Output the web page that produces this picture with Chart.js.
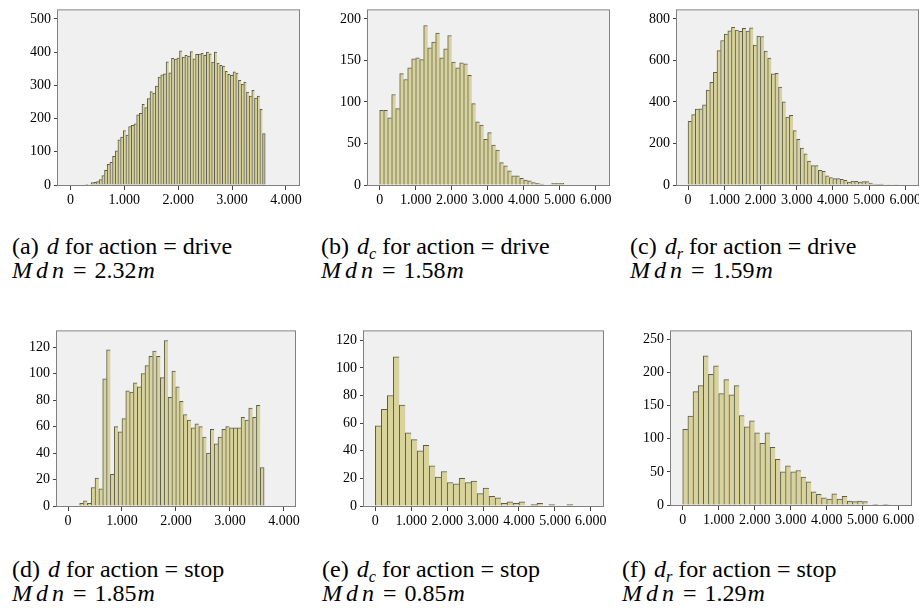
<!DOCTYPE html>
<html>
<head>
<meta charset="utf-8">
<script src="https://cdn.jsdelivr.net/npm/chart.js@4.4.1/dist/chart.umd.min.js"></script>
<style>
  body { margin: 0; background: #fff; width: 919px; height: 612px; overflow: hidden; position: relative;
         font-family: "Liberation Serif", "Times New Roman", serif; }
  .plot { position: absolute; }
  .cap { position: absolute; font-size: 24px; line-height: 24px; white-space: nowrap; color: #000; }
  .cap .lbl { margin-right: 8px; }
  .cap sub { font-size: 68%; vertical-align: -0.28em; line-height: 0; }
  .cap .mv { letter-spacing: 4px; }
  .cap .eq { margin: 0 8px 0 5px; }
  .cap .u { margin-left: 1px; letter-spacing: 1px; }
</style>
</head>
<body>
<div class="plot"><canvas id="chartA"></canvas></div>
<div class="plot"><canvas id="chartB"></canvas></div>
<div class="plot"><canvas id="chartC"></canvas></div>
<div class="plot"><canvas id="chartD"></canvas></div>
<div class="plot"><canvas id="chartE"></canvas></div>
<div class="plot"><canvas id="chartF"></canvas></div>

<div class="cap" style="left:12px;top:234px"><span class="lbl">(a)</span><i>d</i> for action = drive</div>
<div class="cap" style="left:12px;top:258px"><i class="mv">Mdn</i><span class="eq">=</span>2.32<i class="u">m</i></div>
<div class="cap" style="left:321px;top:234px"><span class="lbl">(b)</span><i>d</i><sub><i>c</i></sub> for action = drive</div>
<div class="cap" style="left:321px;top:258px"><i class="mv">Mdn</i><span class="eq">=</span>1.58<i class="u">m</i></div>
<div class="cap" style="left:630px;top:234px"><span class="lbl">(c)</span><i>d</i><sub><i>r</i></sub> for action = drive</div>
<div class="cap" style="left:630px;top:258px"><i class="mv">Mdn</i><span class="eq">=</span>1.59<i class="u">m</i></div>
<div class="cap" style="left:12px;top:557px"><span class="lbl">(d)</span><i>d</i> for action = stop</div>
<div class="cap" style="left:12px;top:581px"><i class="mv">Mdn</i><span class="eq">=</span>1.85<i class="u">m</i></div>
<div class="cap" style="left:322px;top:557px"><span class="lbl">(e)</span><i>d</i><sub><i>c</i></sub> for action = stop</div>
<div class="cap" style="left:322px;top:581px"><i class="mv">Mdn</i><span class="eq">=</span>0.85<i class="u">m</i></div>
<div class="cap" style="left:622px;top:557px"><span class="lbl">(f)</span><i>d</i><sub><i>r</i></sub> for action = stop</div>
<div class="cap" style="left:622px;top:581px"><i class="mv">Mdn</i><span class="eq">=</span>1.29<i class="u">m</i></div>

<script>
// bin start / width in mm, counts per bin
const dDriveStart = 285;
const dDriveWidth = 49.7;
const dDriveCounts = [2, 0, 7, 8, 10, 16, 28, 44, 62, 68, 86, 103, 136, 144, 164, 150, 176, 180, 184, 211,
    216, 243, 233, 260, 281, 277, 298, 325, 332, 335, 371, 338, 381, 379, 382, 404, 385, 390, 388, 402,
    380, 393, 394, 396, 390, 400, 395, 370, 400, 367, 360, 358, 342, 333, 330, 341, 337, 315, 303, 310,
    280, 268, 285, 262, 268, 228, 155];

const dcDriveStart = 0;
const dcDriveWidth = 111.1;
const dcDriveCounts = [90, 90, 81, 109, 92, 134, 127, 141, 152, 153, 151, 192, 165, 172, 183, 153, 164, 180,
    148, 141, 147, 146, 132, 98, 76, 72, 55, 63, 48, 42, 27, 23, 17, 11, 11, 8, 6, 5, 3, 2, 1, 0, 0, 2, 2, 2];

const drDriveStart = 0;
const drDriveWidth = 100;
const drDriveCounts = [307, 339, 365, 367, 386, 457, 494, 542, 647, 696, 727, 743, 759, 746, 740, 754, 741,
    757, 674, 717, 715, 645, 611, 535, 538, 472, 401, 327, 335, 262, 220, 178, 150, 115, 93, 93, 71, 66,
    44, 36, 31, 31, 27, 22, 14, 19, 18, 14, 16, 16, 9, 5, 3, 4, 2, 1, 2, 1];

const dStopStart = 216;
const dStopWidth = 71.2;
const dStopCounts = [2, 4, 2, 14, 21, 13, 96, 118, 24, 60, 56, 66, 87, 86, 93, 90, 100, 106, 113, 117, 113,
    97, 125, 82, 102, 90, 79, 69, 65, 59, 62, 60, 52, 40, 58, 47, 52, 58, 60, 59, 59, 59, 67, 65, 74, 67,
    76, 29];

const dcStopStart = 0;
const dcStopWidth = 166.7;
const dcStopCounts = [58, 70, 80, 108, 73, 53, 48, 40, 44, 29, 21, 25, 17, 16, 20, 17, 18, 9, 13, 7, 6, 2,
    3, 2, 3, 0, 1, 2, 0, 1, 0, 0, 1];

const drStopStart = 0;
const drStopWidth = 142.86;
const drStopCounts = [114, 134, 171, 180, 225, 197, 210, 168, 189, 166, 180, 135, 118, 127, 109, 93, 109,
    87, 69, 50, 59, 50, 52, 42, 35, 20, 16, 11, 9, 17, 9, 13, 6, 5, 6, 5, 0, 1, 0, 1];

// tick labels
const xTicks4 = [0, 1000, 2000, 3000, 4000];
const xTicks6 = [0, 1000, 2000, 3000, 4000, 5000, 6000];
const yTicksA = [0, 100, 200, 300, 400, 500];
const yTicksB = [0, 50, 100, 150, 200];
const yTicksC = [0, 200, 400, 600, 800];
const yTicksD = [0, 20, 40, 60, 80, 100, 120];
const yTicksE = [0, 20, 40, 60, 80, 100, 120];
const yTicksF = [0, 50, 100, 150, 200, 250];

const AXIS_W = 40;
const AXIS_H = 30;
const PAD_TOP = 8;
const PAD_RIGHT = 18;

const framePlugin = {
    id: 'frame',
    beforeDraw(chart) {
        const { ctx, chartArea: a } = chart;
        ctx.save();
        ctx.fillStyle = '#f0f0f0';
        ctx.fillRect(a.left, a.top, a.right - a.left, a.bottom - a.top);
        ctx.restore();
    },
    afterDraw(chart) {
        const { ctx, chartArea: a } = chart;
        ctx.save();
        ctx.strokeStyle = '#808080';
        ctx.lineWidth = 1;
        ctx.strokeRect(a.left - 0.5, a.top - 0.5, a.right - a.left + 1, a.bottom - a.top + 1);
        ctx.restore();
    }
};

function createHistogram(p) {
    const canvas = document.getElementById(p.id);
    const [L, T, R, B] = p.frame;
    const wrap = canvas.parentElement;
    wrap.style.left = (L - AXIS_W) + 'px';
    wrap.style.top = (T - PAD_TOP) + 'px';
    canvas.width = AXIS_W + (R - L) + PAD_RIGHT;
    canvas.height = PAD_TOP + (B - T) + AXIS_H;

    const n = p.counts.length;
    const points = p.counts.map((c, i) => ({ x: p.start + (i + 0.5) * p.width, y: c }));
    const tickFont = { family: '"Liberation Serif", "Times New Roman", serif', size: 14 };

    new Chart(canvas, {
        type: 'bar',
        data: {
            datasets: [{
                data: points,
                backgroundColor: '#d8d29b',
                borderColor: '#5b5b50',
                borderWidth: ctx => ({ top: 1, left: 1, right: ctx.dataIndex === n - 1 ? 1 : 0, bottom: 0 }),
                barPercentage: 1,
                categoryPercentage: 1
            }]
        },
        options: {
            responsive: false,
            devicePixelRatio: 1,
            animation: false,
            layout: { padding: { top: PAD_TOP, right: PAD_RIGHT, left: 0, bottom: 0 } },
            plugins: { legend: { display: false }, tooltip: { enabled: false } },
            scales: {
                x: {
                    type: 'linear',
                    min: p.xMin,
                    max: p.xMax,
                    offset: false,
                    grid: { display: true, offset: false, drawOnChartArea: false, drawTicks: true, tickLength: 5, color: '#444' },
                    border: { display: false },
                    afterBuildTicks: axis => { axis.ticks = p.xTicks.map(v => ({ value: v })); },
                    afterFit: scale => { scale.height = AXIS_H; },
                    ticks: {
                        autoSkip: false,
                        maxRotation: 0,
                        padding: 2,
                        color: '#000',
                        font: tickFont,
                        callback: v => v === 0 ? '0' : (v / 1000).toFixed(3)
                    }
                },
                y: {
                    min: 0,
                    max: p.yMax,
                    grid: { display: true, drawOnChartArea: false, drawTicks: true, tickLength: 4, color: '#444' },
                    border: { display: false },
                    afterBuildTicks: axis => { axis.ticks = p.yTicks.map(v => ({ value: v })); },
                    afterFit: scale => { scale.width = AXIS_W; },
                    ticks: { padding: 3, color: '#000', font: tickFont }
                }
            }
        },
        plugins: [framePlugin]
    });
}

const plots = [
    { id: 'chartA', counts: dDriveCounts, start: dDriveStart, width: dDriveWidth, xTicks: xTicks4, yTicks: yTicksA,
      frame: [58, 7, 299, 185], xMin: -230, xMax: 4242, yMax: 525.6 },
    { id: 'chartB', counts: dcDriveCounts, start: dcDriveStart, width: dcDriveWidth, xTicks: xTicks6, yTicks: yTicksB,
      frame: [368, 7, 609, 185], xMin: -325, xMax: 6370, yMax: 210.2 },
    { id: 'chartC', counts: drDriveCounts, start: drDriveStart, width: drDriveWidth, xTicks: xTicks6, yTicks: yTicksC,
      frame: [677, 7, 918, 185], xMin: -305, xMax: 6353, yMax: 840.8 },
    { id: 'chartD', counts: dStopCounts, start: dStopStart, width: dStopWidth, xTicks: xTicks4, yTicks: yTicksD,
      frame: [57, 328, 295, 506], xMin: -204, xMax: 4206, yMax: 131.9 },
    { id: 'chartE', counts: dcStopCounts, start: dcStopStart, width: dcStopWidth, xTicks: xTicks6, yTicks: yTicksE,
      frame: [364, 328, 603, 506], xMin: -316, xMax: 6340, yMax: 126.4 },
    { id: 'chartF', counts: drStopCounts, start: drStopStart, width: drStopWidth, xTicks: xTicks6, yTicks: yTicksF,
      frame: [671, 328, 911, 505], xMin: -326, xMax: 6344, yMax: 261.8 }
];

plots.forEach(createHistogram);
</script>
</body>
</html>
